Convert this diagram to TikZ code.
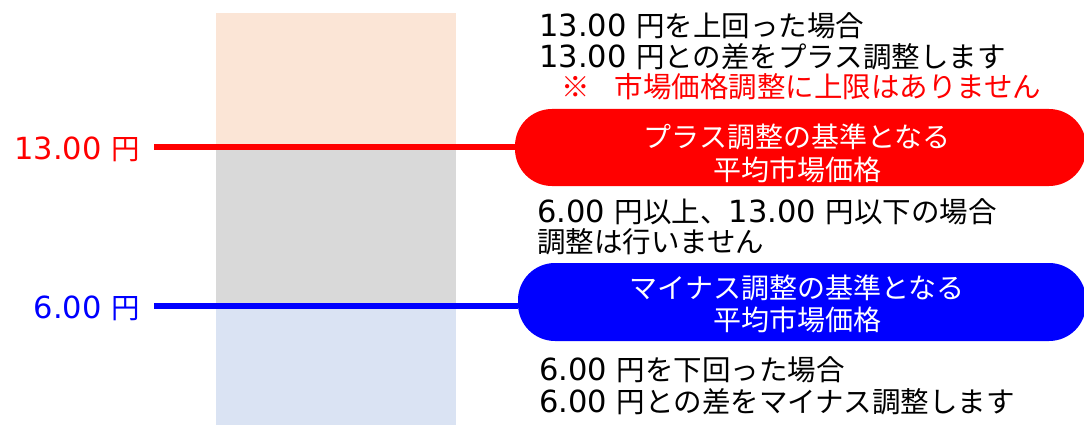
\documentclass[tikz,border=0pt]{standalone}
\usepackage{fontspec}
\setmainfont{Noto Sans CJK JP}
\newfontfamily\dvs{DejaVu Sans}
\newcommand\nm[1]{{\dvs\fontsize{30.5}{32}\selectfont #1}}
\definecolor{colO}{HTML}{FBE5D6}
\definecolor{colG}{HTML}{D9D9D9}
\definecolor{colB}{HTML}{DAE3F3}
\definecolor{myred}{HTML}{FF0000}
\definecolor{myblue}{HTML}{0000FF}
\begin{document}
\begin{tikzpicture}[x=1pt,y=-1pt,
  txt/.style={font=\fontsize{28.5}{32}\selectfont, inner sep=0pt, anchor=base west},
  lbl/.style={font=\fontsize{28.5}{32}\selectfont, inner sep=0pt, anchor=base east},
  pill/.style={rectangle, rounded corners=37pt, inner sep=0pt},
  pilltxt/.style={font=\fontsize{28}{32}\selectfont, inner sep=0pt, anchor=base, text=white},
  level/.style={line width=6pt}]
\useasboundingbox (0,0) rectangle (1084,425);
\begin{scope}
\clip (0,0) rectangle (1084,425);
% column
\fill[colO] (216,13) rectangle (456,147);
\fill[colG] (216,147) rectangle (456,307);
\fill[colB] (216,307) rectangle (456,425);

% pills
\node[pill, fill=myred, minimum width=571pt, minimum height=77pt] (rp) at (800.5,147.5) {};
\node[pill, fill=myblue, minimum width=568pt, minimum height=78pt] (bp) at (802,302) {};
\node[pilltxt] (rpt1) at (797,148) {プラス調整の基準となる};
\node[pilltxt] (rpt2) at (797,180) {平均市場価格};
\node[pilltxt] (bpt1) at (797,298) {マイナス調整の基準となる};
\node[pilltxt] (bpt2) at (797,330) {平均市場価格};

% left labels
\node[lbl, text=myred] (rl) at (140,159) {\nm{13.00 }円};
\node[lbl, text=myblue] (bl) at (140,318) {\nm{6.00 }円};
\coordinate (rs) at (154,147);
\coordinate (bs) at (154,306);
\draw[level, myred] (rs) -- (rp.west |- rs);
\draw[level, myblue] (bs) -- (bp.west |- bs);

% texts
\node[txt] (t1) at (539,37) {\nm{13.00 }円を上回った場合};
\node[txt] (t2) at (539,68) {\nm{13.00 }円との差をプラス調整します};
\node[txt, text=myred] (t3) at (561,98) {※\hspace{25pt}市場価格調整に上限はありません};
\node[txt] (t4) at (537,222) {\nm{6.00 }円以上、\nm{13.00 }円以下の場合};
\node[txt] (t5) at (537,252) {調整は行いません};
\node[txt] (t6) at (539,380) {\nm{6.00 }円を下回った場合};
\node[txt] (t7) at (539,412) {\nm{6.00 }円との差をマイナス調整します};
\end{scope}
\end{tikzpicture}
\end{document}
